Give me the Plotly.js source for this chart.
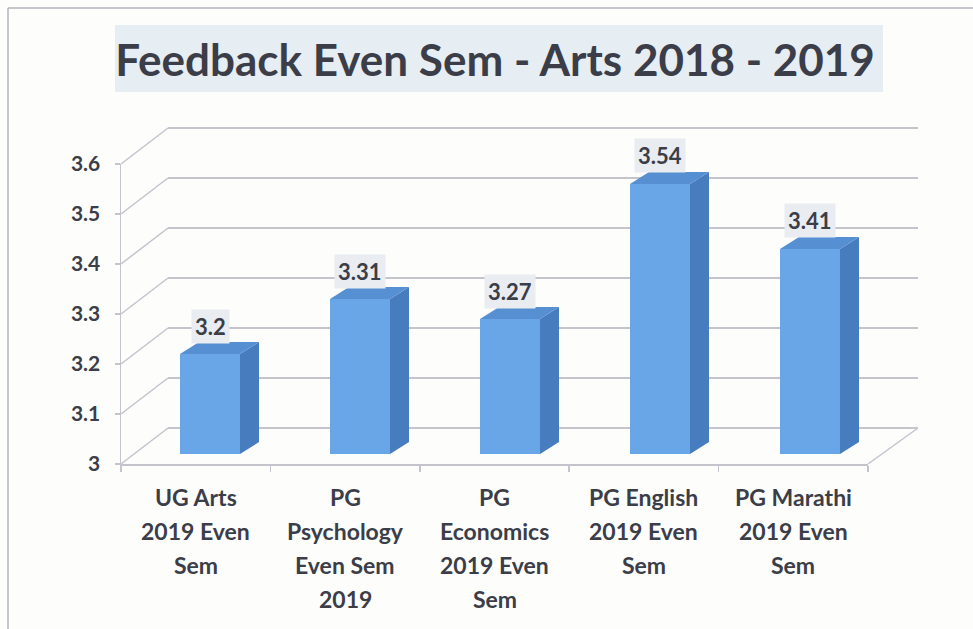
<!DOCTYPE html>
<html>
<head>
<meta charset="utf-8">
<script src="https://cdn.plot.ly/plotly-3.0.1.min.js"></script>
<style>
  html, body { margin: 0; padding: 0; background: #fdfdfc; }
  #chart { width: 973px; height: 629px; }
</style>
</head>
<body>
<div id="chart"></div>
<script>
// ---- data ----
const chartTitle = "Feedback Even Sem - Arts 2018 - 2019";
const categories = [
  "UG Arts<br>2019 Even<br>Sem",
  "PG<br>Psychology<br>Even Sem<br>2019",
  "PG<br>Economics<br>2019 Even<br>Sem",
  "PG English<br>2019 Even<br>Sem",
  "PG Marathi<br>2019 Even<br>Sem"
];
const values = [3.2, 3.31, 3.27, 3.54, 3.41];
const yTicks = [3, 3.1, 3.2, 3.3, 3.4, 3.5, 3.6];

// ---- layout geometry (pixels of the 973x629 page) ----
const W = 973, H = 629;
const px = x => x / W;
const py = y => 1 - y / H;
const yMin = 3, yMax = 3.6;
const BACK = { x0: 168, x1: 918, yBot: 428, yTop: 128 };
const FRONT = { x0: 121, x1: 868, yBot: 464, yTop: 164 };
const BARS = { x0: 135, x1: 885, yBot: 454, yTop: 154 };
const barW = 0.4;
const depthX = 19 / 150;
const depthY = 12 / 500;
const backPadPx = 3;  // keep edge gridlines inside the back-wall plot area
const backPad = backPadPx * (yMax - yMin) / (BACK.yBot - BACK.yTop);

const fontFam = "Lato, 'Open Sans', 'DejaVu Sans', sans-serif";
const textCol = "#3b3d48";
const gridCol = "#c3c4cc";

const idx = values.map((_, i) => i);

// invisible carrier so the back-wall subplot (gridlines) is drawn
const backWall = {
  type: "scatter", mode: "none", x: idx, y: values, xaxis: "x", yaxis: "y",
  hoverinfo: "skip", showlegend: false
};
const frontFaces = {
  type: "bar", x: idx, y: values, width: barW,
  xaxis: "x3", yaxis: "y3",
  marker: { color: "#69a6e7", line: { width: 0 } },
  hoverinfo: "skip", showlegend: false
};
const sideX = [], sideY = [], topX = [], topY = [];
values.forEach((v, i) => {
  const r = i + barW / 2, l = i - barW / 2;
  sideX.push(r, r, r + depthX, r + depthX, r, null);
  sideY.push(yMin, v, v + depthY, yMin + depthY, yMin, null);
  topX.push(l, r, r + depthX, l + depthX, l, null);
  topY.push(v, v, v + depthY, v + depthY, v, null);
});
const sideFaces = {
  type: "scatter", mode: "lines", x: sideX, y: sideY, fill: "toself",
  fillcolor: "#477cbf", line: { width: 0 }, xaxis: "x3", yaxis: "y3",
  hoverinfo: "skip", showlegend: false
};
const topFaces = {
  type: "scatter", mode: "lines", x: topX, y: topY, fill: "toself",
  fillcolor: "#5690d3", line: { width: 0 }, xaxis: "x3", yaxis: "y3",
  hoverinfo: "skip", showlegend: false
};

const frontY = v => FRONT.yBot - (v - yMin) / (yMax - yMin) * (FRONT.yBot - FRONT.yTop);
const backY = v => BACK.yBot - (v - yMin) / (yMax - yMin) * (BACK.yBot - BACK.yTop);
const shapes = [];
shapes.push({ type: "rect", xref: "paper", yref: "paper", layer: "below",
  x0: px(115), x1: px(883), y0: py(92), y1: py(25),
  fillcolor: "#e6edf3", line: { width: 0 } });
shapes.push({ type: "line", xref: "paper", yref: "paper", layer: "below",
  x0: px(8), x1: px(8), y0: py(8), y1: 0, line: { color: "#b3b4bc", width: 1.5 } });
shapes.push({ type: "line", xref: "paper", yref: "paper", layer: "below",
  x0: px(8), x1: 1, y0: py(8), y1: py(8), line: { color: "#b3b4bc", width: 1.5 } });
yTicks.forEach(v => {
  shapes.push({ type: "line", xref: "paper", yref: "paper", layer: "below",
    x0: px(FRONT.x0), y0: py(frontY(v)), x1: px(BACK.x0), y1: py(backY(v)),
    line: { color: gridCol, width: 1.5 } });
});
shapes.push({ type: "line", xref: "paper", yref: "paper", layer: "below",
  x0: px(FRONT.x1), y0: py(FRONT.yBot), x1: px(BACK.x1), y1: py(BACK.yBot),
  line: { color: gridCol, width: 1.5 } });

const annotations = values.map((v, i) => ({
  xref: "x3", yref: "y3", x: i, y: v, yshift: 28,
  text: String(v), showarrow: false,
  font: { family: fontFam, size: 22, color: textCol, weight: "bold" },
  bgcolor: "#e9ecf0", borderpad: 3
}));
const lineY0 = 497, lineGap = 34;
categories.forEach((c, i) => {
  c.split("<br>").forEach((ln, k) => {
    annotations.push({
      xref: "x2", yref: "paper", x: i, y: py(lineY0 + k * lineGap),
      yanchor: "middle", text: ln, showarrow: false,
      font: { family: fontFam, size: 23, color: textCol, weight: "bold" }
    });
  });
});

const layout = {
  width: W, height: H,
  margin: { l: 0, r: 0, t: 0, b: 0 },
  paper_bgcolor: "#fdfdfc", plot_bgcolor: "rgba(0,0,0,0)",
  showlegend: false,
  title: {
    text: chartTitle, xref: "paper", yref: "paper", x: 495 / W, y: py(61),
    xanchor: "center", yanchor: "middle",
    font: { family: fontFam, size: 44, color: textCol, weight: "bold" }
  },
  xaxis: { domain: [px(BACK.x0), px(BACK.x1)], range: [-0.5, categories.length - 0.5],
    showgrid: false, zeroline: false, showline: false, showticklabels: false, ticks: "", anchor: "y" },
  yaxis: { domain: [py(BACK.yBot + backPadPx), py(BACK.yTop - backPadPx)],
    range: [yMin - backPad, yMax + backPad], tickvals: yTicks,
    showgrid: true, gridcolor: gridCol, gridwidth: 1.5, zeroline: false, showline: false,
    showticklabels: false, ticks: "", anchor: "x" },
  xaxis2: { domain: [px(FRONT.x0), px(FRONT.x1)], range: [-0.5, categories.length - 0.5],
    tickvals: categories.map((_, i) => i - 0.5).concat([categories.length - 0.5]),
    showticklabels: false, ticks: "outside", ticklen: 6, tickcolor: gridCol, tickwidth: 1.5,
    showline: true, linecolor: gridCol, linewidth: 1.5, showgrid: false, zeroline: false, anchor: "y2" },
  yaxis2: { domain: [py(FRONT.yBot), py(FRONT.yTop)], range: [yMin, yMax], tickvals: yTicks,
    ticktext: yTicks.map(String),
    ticks: "outside", ticklen: 5, tickcolor: gridCol, tickwidth: 1.5, ticklabelstandoff: 10,
    showline: true, linecolor: gridCol, linewidth: 1.5, showgrid: false, zeroline: false,
    tickfont: { family: fontFam, size: 21, color: textCol, weight: "bold" }, anchor: "x2" },
  xaxis3: { domain: [px(BARS.x0), px(BARS.x1)], range: [-0.5, categories.length - 0.5],
    type: "linear", visible: false, anchor: "y3" },
  yaxis3: { domain: [py(BARS.yBot), py(BARS.yTop)], range: [yMin, yMax], visible: false, anchor: "x3" },
  shapes: shapes,
  annotations: annotations
};

Plotly.newPlot("chart", [backWall, frontFaces, sideFaces, topFaces], layout, { displayModeBar: false, staticPlot: true });
</script>
</body>
</html>
